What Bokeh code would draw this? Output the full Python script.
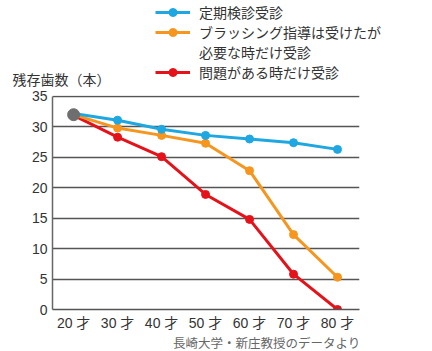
from bokeh.plotting import figure
from bokeh.models import Legend, LegendItem, Label, FixedTicker, Range1d
from bokeh.layouts import column
from bokeh.embed import file_html
from bokeh.resources import INLINE

ages = [20, 30, 40, 50, 60, 70, 80]
age_labels = ["20 才", "30 才", "40 才", "50 才", "60 才", "70 才", "80 才"]
regular = [32.2, 31.1, 29.6, 28.6, 28.0, 27.4, 26.3]
brushing = [32.0, 29.8, 28.6, 27.3, 22.8, 12.3, 5.3]
problem = [31.9, 28.3, 25.1, 18.9, 14.8, 5.8, 0.0]
start_age = [20]
start_val = [32.0]
names = ["定期検診受診", "ブラッシング指導は受けたが", "必要な時だけ受診", "問題がある時だけ受診"]
y_ticks = [0, 5, 10, 15, 20, 25, 30, 35]
y_title = "残存歯数（本）"
source = "長崎大学・新庄教授のデータより"

FONT = "Noto Sans CJK JP"
NUMFONT = "Liberation Sans, Noto Sans CJK JP"
BLUE = "#1ea7e1"
ORANGE = "#f7961f"
RED = "#e6121a"
GRAY = "#6e6e6e"
TXT = "#333333"

TOP_H = 88
BOT_H = 18
MAIN_H = 351 - TOP_H - BOT_H

# ---- top panel: legend + y title ----
top = figure(width=432, height=TOP_H, output_backend="svg", toolbar_location=None,
             x_range=Range1d(0, 432), y_range=Range1d(0, TOP_H),
             min_border=0, x_axis_type=None, y_axis_type=None, frame_align=False)
top.outline_line_color = None
top.grid.visible = False

key_cols = [BLUE, ORANGE, None, RED]
items = []
for name, c in zip(names, key_cols):
    # legend keys only: placed outside the visible range
    if c is None:
        r = top.scatter([-15], [-20], size=0, alpha=0)
        items.append(LegendItem(label=name, renderers=[r]))
    else:
        l = top.line([-20, -10], [-20, -20], line_color=c, line_width=3)
        s = top.scatter([-15], [-20], size=12, color=c)
        items.append(LegendItem(label=name, renderers=[l, s]))

legend = Legend(items=items, location=(155, 6))
legend.border_line_color = None
legend.background_fill_alpha = 0
legend.glyph_width = 35
legend.glyph_height = 20
legend.label_height = 17
legend.spacing = 0
legend.padding = 0
legend.margin = 0
legend.label_standoff = 9
legend.label_text_font = FONT
legend.label_text_font_size = "14px"
legend.label_text_color = TXT
top.add_layout(legend, "center")

top.add_layout(Label(x=12, y=0, text=y_title, text_font=FONT, text_font_size="14px",
                     text_color=TXT, text_baseline="bottom"))

# ---- main chart ----
p = figure(width=432, height=MAIN_H, output_backend="svg", toolbar_location=None,
           x_range=Range1d(15.2, 85.0), y_range=Range1d(0, 35.15),
           min_border_left=52, min_border_right=73, min_border_top=7, min_border_bottom=23,
           frame_align=False)
p.outline_line_color = None
p.xgrid.grid_line_color = None
p.ygrid.grid_line_color = "#555555"
p.ygrid.grid_line_width = 1.5
p.ygrid.ticker = FixedTicker(ticks=y_ticks)

p.yaxis.ticker = FixedTicker(ticks=y_ticks)
p.yaxis.bounds = (0, 35)
p.yaxis.axis_line_color = "#666666"
p.yaxis.axis_line_width = 1.5
p.yaxis.major_tick_line_color = None
p.yaxis.minor_tick_line_color = None
p.yaxis.major_tick_out = 0
p.yaxis.major_tick_in = 0
p.yaxis.minor_tick_out = 0
p.yaxis.major_label_standoff = 5
p.yaxis.major_label_text_font = NUMFONT
p.yaxis.major_label_text_font_size = "14px"
p.yaxis.major_label_text_color = TXT

p.xaxis.ticker = FixedTicker(ticks=ages)
p.xaxis.major_label_overrides = {a: l for a, l in zip(ages, age_labels)}
p.xaxis.axis_line_color = "#555555"
p.xaxis.axis_line_width = 1.5
p.xaxis.major_tick_line_color = None
p.xaxis.minor_tick_line_color = None
p.xaxis.major_tick_out = 0
p.xaxis.major_tick_in = 0
p.xaxis.minor_tick_out = 0
p.xaxis.major_label_standoff = 5
p.xaxis.major_label_text_font = NUMFONT
p.xaxis.major_label_text_font_size = "14px"
p.xaxis.major_label_text_color = TXT

p.line(ages, problem, line_color=RED, line_width=3)
p.scatter(ages[1:], problem[1:], size=8, color=RED)
p.line(ages, brushing, line_color=ORANGE, line_width=3)
p.scatter(ages[1:], brushing[1:], size=8, color=ORANGE)
p.line(ages, regular, line_color=BLUE, line_width=3)
p.scatter(ages[1:], regular[1:], size=8, color=BLUE)
p.scatter(start_age, start_val, size=12, color=GRAY)

# ---- bottom: source note ----
bot = figure(width=432, height=BOT_H, output_backend="svg", toolbar_location=None,
             x_range=Range1d(0, 432), y_range=Range1d(0, BOT_H),
             min_border=0, x_axis_type=None, y_axis_type=None, frame_align=False)
bot.outline_line_color = None
bot.grid.visible = False
bot.add_layout(Label(x=360, y=0, text=source, text_font=FONT, text_font_size="12.5px",
                     text_color="#666666", text_align="right", text_baseline="bottom"))

layout = column(top, p, bot, spacing=0)
open("out.html", "w").write(file_html(layout, INLINE))
